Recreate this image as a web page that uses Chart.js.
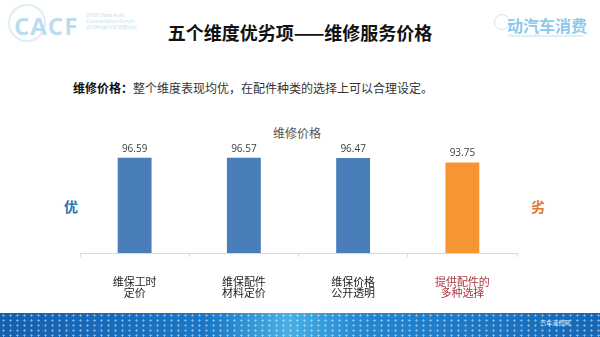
<!DOCTYPE html>
<html>
<head>
<meta charset="utf-8">
<script src="https://cdn.jsdelivr.net/npm/chart.js@4"></script>
<style>
  html, body { margin: 0; padding: 0; }
  body { width: 600px; height: 337px; position: relative; overflow: hidden; background: #fff;
         font-family: "Noto Sans CJK SC", "Noto Sans", sans-serif; }
  #chart { position: absolute; left: 0; top: 0; }
  .abs { position: absolute; white-space: nowrap; }
  #logoL { left: 14px; top: 9px; font: bold 24px "Open Sans", sans-serif; color: #bcdcf0; letter-spacing: 1px; }
  #ring { left: 8px; top: 4px; width: 34px; height: 34px; border: 2px solid #deeef8; border-radius: 50%; }
  #logoLsub { left: 86px; top: 12px; font: 5px/6px "Noto Sans", sans-serif; color: #c2def0; }
  #title { left: 0; width: 600px; top: 19px; text-align: center; font-weight: bold; font-size: 18px; color: #111; }
  #logoR { left: 507px; top: 13px; font: bold 16px "Noto Sans CJK SC", sans-serif; color: #8ccaea; }
  #logoRsub { left: 508px; top: 33px; font: 3.5px "Noto Sans", sans-serif; color: #a8d2ea; }
  #logoRcircle { left: 494px; top: 14px; width: 14px; height: 14px; border: 1px solid #cfe6f4; border-radius: 50%; }
  #sub { left: 73px; top: 79px; font-size: 12px; color: #333; }
  #sub b { color: #111; }
  #ctitle { left: 0; width: 594px; top: 124px; text-align: center; font-size: 12px; color: #555; }
  #good { left: 64px; top: 196px; font-weight: bold; font-size: 14px; color: #2c72b0; }
  #bad  { left: 531px; top: 196px; font-weight: bold; font-size: 14px; color: #e0773a; }
  #band { left: 0; top: 313px; width: 600px; height: 24px;
          background:
            radial-gradient(circle, rgba(255,255,255,0.5) 0.9px, transparent 1.3px) 0 0 / 7px 5px,
            linear-gradient(90deg, #145fae 0%, #1b78c6 35%, #49b0e3 48%, #2487d0 60%, #1766b6 100%); }
  #bandtxt { left: 540px; top: 318px; font-size: 6px; color: #e6f3fb; }
</style>
</head>
<body>
<div class="abs" id="ring"></div>
<div class="abs" id="logoL">CACF</div>
<div class="abs" id="logoLsub">2018 China Auto<br>Consumption Forum<br>2018中国汽车消费论坛</div>
<div class="abs" id="title">五个维度优劣项——维修服务价格</div>
<div class="abs" id="logoRcircle"></div>
<div class="abs" id="logoR">动汽车消费</div>
<div class="abs" id="logoRsub">Chinese automobile consumption and service</div>
<div class="abs" id="sub"><b>维修价格：</b>整个维度表现均优，在配件种类的选择上可以合理设定。</div>
<div class="abs" id="ctitle">维修价格</div>
<div class="abs" id="good">优</div>
<div class="abs" id="bad">劣</div>
<div class="abs" id="band"></div>
<div class="abs" id="bandtxt">汽车消费网</div>
<canvas id="chart" width="600" height="337"></canvas>
<script>
// 维修服务价格各项得分
const categories = [
  ["维保工时", "定价"],
  ["维保配件", "材料定价"],
  ["维保价格", "公开透明"],
  ["提供配件的", "多种选择"]
];
const scores = [96.59, 96.57, 96.47, 93.75];
const barColors = ["#4a7ebb", "#4a7ebb", "#4a7ebb", "#f79433"];
const labelColors = ["#222222", "#222222", "#222222", "#a53a42"];

// 柱顶数值标签
const valueLabels = {
  id: "valueLabels",
  afterDatasetsDraw(chart) {
    const ctx = chart.ctx;
    const meta = chart.getDatasetMeta(0);
    ctx.save();
    ctx.font = '10px "Open Sans", "Noto Sans", sans-serif';
    ctx.fillStyle = "#404040";
    ctx.textAlign = "center";
    ctx.textBaseline = "bottom";
    meta.data.forEach((bar, i) => {
      ctx.fillText(scores[i].toFixed(2), bar.x, bar.y - 4);
    });
    ctx.restore();
  }
};

new Chart(document.getElementById("chart"), {
  type: "bar",
  data: {
    labels: categories,
    datasets: [{
      data: scores,
      backgroundColor: barColors,
      borderWidth: 0,
      categoryPercentage: 1,
      barPercentage: 0.31
    }]
  },
  options: {
    responsive: false,
    animation: false,
    layout: { padding: { left: 80, right: 83, top: 152, bottom: 0 } },
    plugins: { legend: { display: false }, tooltip: { enabled: false } },
    scales: {
      x: {
        afterFit(scale) { scale.height = 84; },
        border: { color: "#d9d9d9", width: 1 },
        grid: { display: true, drawOnChartArea: false, drawTicks: true, tickLength: 4, color: "#d9d9d9" },
        ticks: {
          padding: 20,
          color: (c) => labelColors[c.index],
          font: { family: '"Noto Sans CJK SC", sans-serif', size: 11, lineHeight: 0.95 }
        }
      },
      y: { display: false, min: 40, max: 100 }
    }
  },
  plugins: [valueLabels]
});
</script>
</body>
</html>
